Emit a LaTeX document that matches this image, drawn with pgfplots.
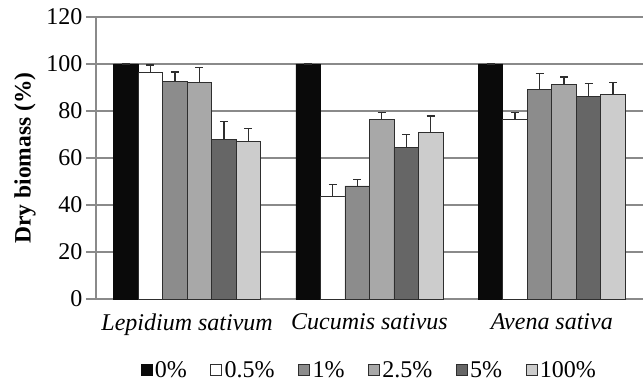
\documentclass[border=0pt]{standalone}
\usepackage{pgfplots}
\pgfplotsset{compat=1.18}
\usepackage{fontspec}
\setmainfont{Liberation Serif}
\definecolor{cA}{HTML}{0A0A0A}
\definecolor{cB}{HTML}{FFFFFF}
\definecolor{cC}{HTML}{8C8C8C}
\definecolor{cD}{HTML}{A8A8A8}
\definecolor{cE}{HTML}{666666}
\definecolor{cF}{HTML}{CCCCCC}
\definecolor{gridc}{HTML}{8A8A8A}
\definecolor{edgec}{HTML}{2E2E2E}
\begin{document}
\begin{tikzpicture}
\useasboundingbox (-96pt,-84pt) rectangle (547pt,299pt);
\begin{axis}[
  scale only axis, width=547pt, height=282pt,
  ybar=0pt, bar width=24.5pt,
  xmin=-0.5, xmax=2.5, ymin=0, ymax=120,
  ytick={0,20,...,120},
  xtick={0,1,2},
  xticklabels={\textit{Lepidium sativum},\textit{Cucumis sativus},\textit{Avena sativa}},
  major x tick style={draw=none},
  extra x ticks={-0.5,0.5,1.5,2.5},
  extra x tick labels={},
  extra x tick style={major tick length=9pt, tick align=outside, tick style={gridc, line width=1pt}, grid=none},
  axis x line=bottom, axis y line=left,
  axis line style={-, gridc, line width=1.2pt},
  ytick align=outside, major tick length=10pt,
  ytick style={gridc, line width=1.2pt},
  ymajorgrids, grid style={gridc, line width=1.2pt},
  /pgf/number format/assume math mode=true,
  tick label style={font=\fontsize{24}{28}\selectfont},
  xticklabel style={yshift=-6pt},
  ylabel={\textbf{Dry biomass (\%)}},
  ylabel style={font=\fontsize{23.5}{28}\selectfont, at={(axis description cs:-0.1298,0.5)}, anchor=center},
  legend columns=6,
  legend style={draw=none, fill=none, at={(axis description cs:0.5,-0.252)}, anchor=center,
    font=\fontsize{24}{28}\selectfont,
    /tikz/every even column/.append style={column sep=21pt},
    nodes={inner xsep=2.5pt, inner ysep=0.5pt}},
  every axis plot/.append style={draw=edgec, line width=0.9pt,
    legend image code/.code={\draw[#1, line width=0.8pt] (0pt,-5.5pt) rectangle (11pt,5.5pt);}},
  error bars/y dir=plus, error bars/y explicit,
  error bars/error bar style={edgec, line width=1.3pt},
  error bars/error mark options={rotate=90, mark size=4pt, edgec, line width=1.3pt},
]
\addplot[fill=cA, draw=cA] coordinates {(0,100) +- (0,0) (1,100) +- (0,0) (2,100) +- (0,0)};
\addplot[fill=cB] coordinates {(0,96.3) +- (0,3.3) (1,43.8) +- (0,4.9) (2,76.5) +- (0,2.9)};
\addplot[fill=cC] coordinates {(0,92.5) +- (0,4.1) (1,48.1) +- (0,2.8) (2,89.2) +- (0,6.8)};
\addplot[fill=cD] coordinates {(0,92.3) +- (0,6.1) (1,76.5) +- (0,2.9) (2,91.1) +- (0,3.4)};
\addplot[fill=cE] coordinates {(0,67.7) +- (0,7.7) (1,64.3) +- (0,5.8) (2,86.0) +- (0,5.8)};
\addplot[fill=cF] coordinates {(0,66.9) +- (0,5.6) (1,70.9) +- (0,7.0) (2,87.1) +- (0,5.1)};
\legend{0\%,0.5\%,1\%,2.5\%,5\%,100\%}
\end{axis}
\end{tikzpicture}
\end{document}
